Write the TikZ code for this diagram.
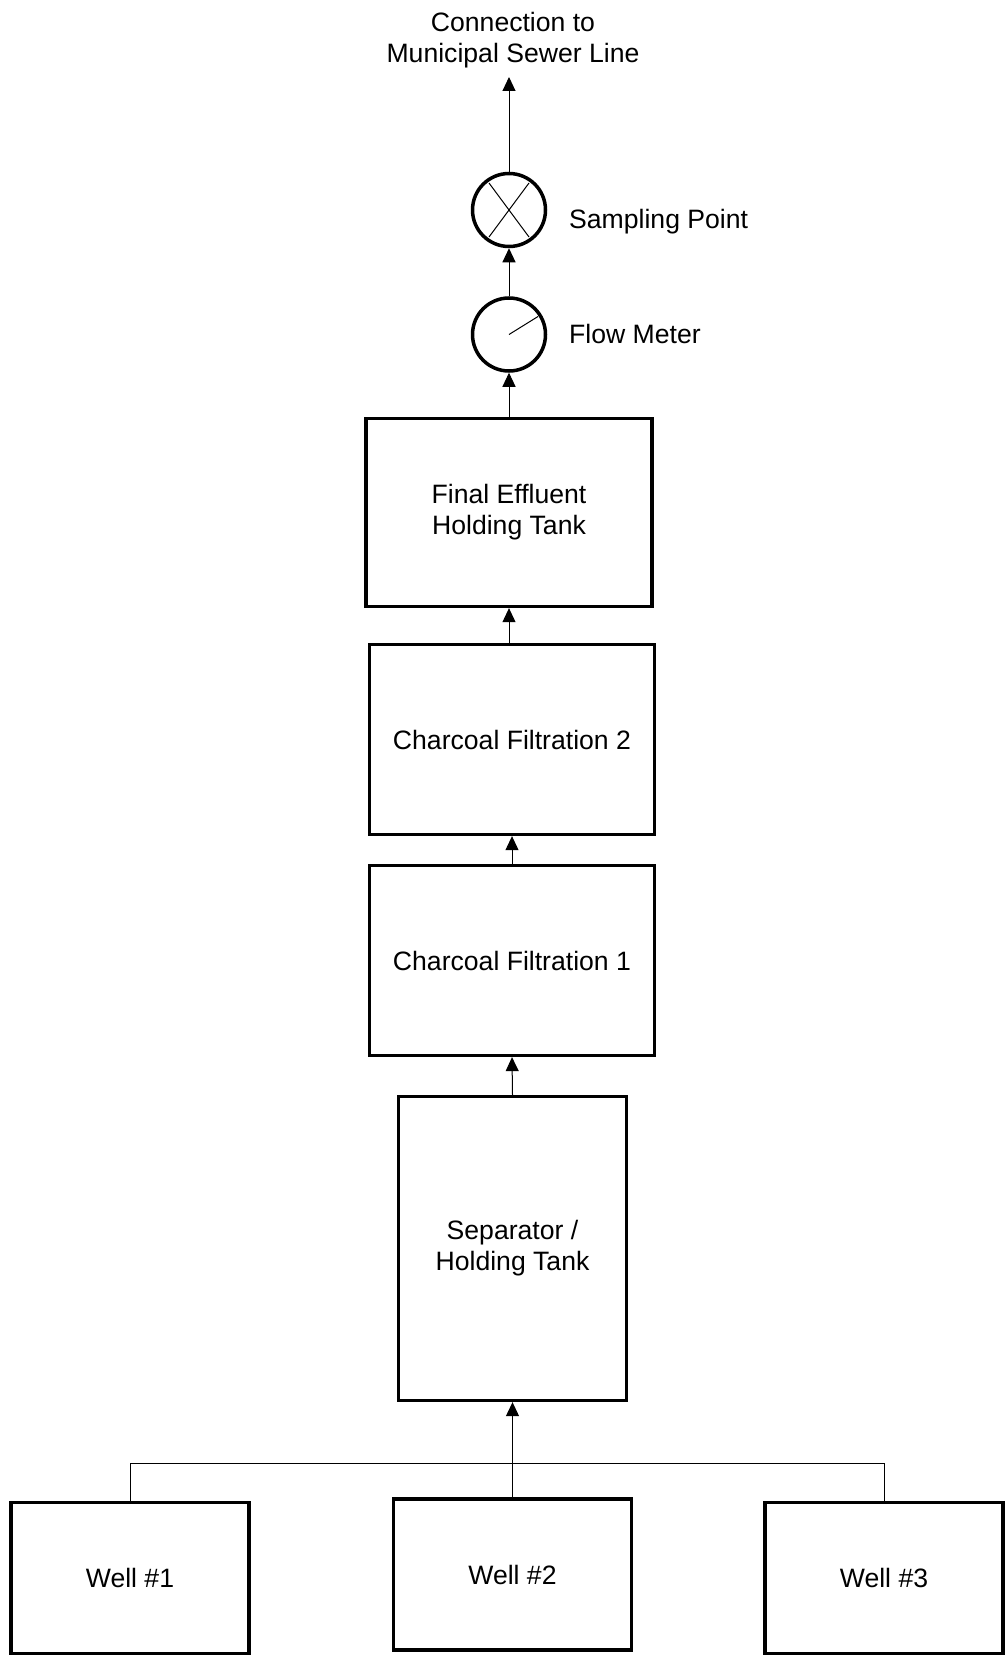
\documentclass[tikz,border=0pt]{standalone}
\usepackage{fontspec}
\setmainfont{Liberation Sans}
\usetikzlibrary{arrows.meta}

\tikzset{
  tank/.style={draw, line width=3.3pt, align=center, inner sep=0pt},
  meter/.style={draw, circle, line width=3.5pt, minimum size=73pt, inner sep=0pt},
  flow/.style={line width=1pt, -{Triangle[length=14pt,width=13pt]}},
  pipe/.style={line width=1pt}
}

\begin{document}
\begin{tikzpicture}[x=1pt, y=-1pt, font=\fontsize{26.6}{31}\selectfont]
    \useasboundingbox (0,0) rectangle (1008,1656);

    % draw tanks and filters
    \node[tank, minimum width=228pt, minimum height=304pt] (sep) at (512.5,1248.5) {Separator /\\Holding Tank};
    \node[tank, minimum width=285pt, minimum height=190pt] (cf1) at (512,960.5) {Charcoal Filtration 1};
    \node[tank, minimum width=285pt, minimum height=190pt] (cf2) at (512,739.5) {Charcoal Filtration 2};
    \node[tank, minimum width=286pt, minimum height=188pt] (hold) at (509,512.5) {Final Effluent\\Holding Tank};

    % draw meter and sampling point
    \node[meter] (fm) at (509,334.5) {};
    \node[meter] (sp) at (509,210) {};
    \draw[pipe] (fm.center) -- ++(29,-18);
    \draw[pipe] ([shift={(-20,-27)}]sp.center) -- ([shift={(20,27)}]sp.center);
    \draw[pipe] ([shift={(20,-27)}]sp.center) -- ([shift={(-20,27)}]sp.center);
    \node[anchor=base west, inner sep=0pt] (fmlabel) at (569,343) {Flow Meter};
    \node[anchor=base west, inner sep=0pt] (splabel) at (569,228) {Sampling Point};

    % draw outlet
    \node[align=center, anchor=north, inner sep=0pt] (sewer) at (513,12) {Connection to\\Municipal Sewer Line};
    \coordinate (outlet) at (509,77);

    % draw wells
    \foreach \n/\x/\y in {1/130/1578, 2/512.5/1574.5, 3/884/1578}
      \node[tank, minimum width=238pt, minimum height=151pt] (well\n) at (\x,\y) {Well \#\n};

    % draw pipes
    \coordinate (bus) at (512.5,1463);
    \draw[pipe] (well1.north) |- (bus) -| (well3.north);
    \draw[flow] (well2.north) -- (sep.south);
    \draw[flow] (sep.north) -- (cf1.south);
    \draw[flow] (cf1.north) -- (cf2.south);
    \draw[flow] (hold.south |- cf2.north) -- (hold.south);
    \draw[flow] (hold.north) -- (fm.south);
    \draw[flow] (fm.north) -- (sp.south);
    \draw[flow] (sp.north) -- (outlet);
\end{tikzpicture}
\end{document}
